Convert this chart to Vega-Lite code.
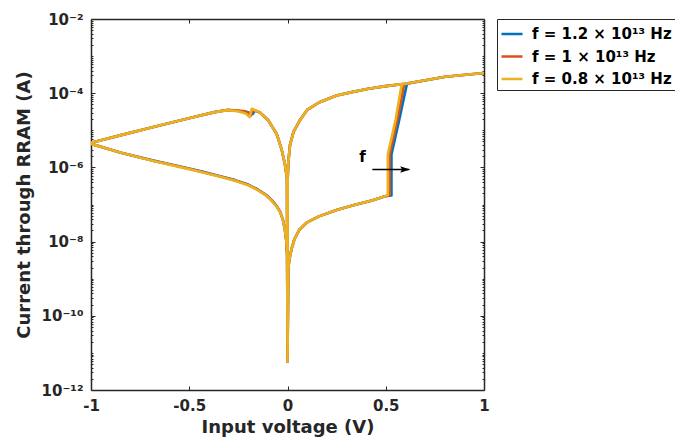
{
  "$schema": "https://vega.github.io/schema/vega-lite/v6.json",
  "width": 393,
  "height": 371,
  "autosize": {"type": "none"},
  "padding": {"left": 91, "top": 19, "right": 191, "bottom": 51},
  "background": "white",
  "config": {
    "view": {"stroke": null},
    "font": "DejaVu Sans",
    "axis": {
      "labelFont": "DejaVu Sans", "labelFontWeight": "bold", "labelColor": "#262626",
      "titleFont": "DejaVu Sans", "titleFontWeight": "bold", "titleColor": "#262626",
      "tickColor": "#262626", "domainColor": "#262626", "domainWidth": 1.5, "tickWidth": 1,
      "grid": false, "labelFlush": false, "labelOverlap": false
    }
  },
  "datasets": {
    "iv": [
      {"f":"1.2","i":1,"v":0,"a":5.5e-12},{"f":"1.2","i":2,"v":0.004,"a":1.778e-9},{"f":"1.2","i":3,"v":0.0092,"a":3.31e-9},{"f":"1.2","i":4,"v":0.0214,"a":6.61e-9},{"f":"1.2","i":5,"v":0.035,"a":1.148e-8},{"f":"1.2","i":6,"v":0.06,"a":2.09e-8},{"f":"1.2","i":7,"v":0.1,"a":3.31e-8},{"f":"1.2","i":8,"v":0.16,"a":4.79e-8},{"f":"1.2","i":9,"v":0.25,"a":7.08e-8},{"f":"1.2","i":10,"v":0.33,"a":9.33e-8},{"f":"1.2","i":11,"v":0.43,"a":1.29e-7},{"f":"1.2","i":12,"v":0.497,"a":1.66e-7},{"f":"1.2","i":13,"v":0.529,"a":1.74e-7},{"f":"1.2","i":14,"v":0.529,"a":2.24e-6},{"f":"1.2","i":15,"v":0.569,"a":1.95e-5},{"f":"1.2","i":16,"v":0.608,"a":1.81e-4},{"f":"1.2","i":17,"v":0.803,"a":2.77e-4},{"f":"1.2","i":18,"v":1,"a":3.5e-4},{"f":"1.2","i":19,"v":0.803,"a":2.77e-4},{"f":"1.2","i":20,"v":0.6,"a":1.79e-4},{"f":"1.2","i":21,"v":0.5,"a":1.55e-4},{"f":"1.2","i":22,"v":0.412,"a":1.318e-4},{"f":"1.2","i":23,"v":0.327,"a":1.07e-4},{"f":"1.2","i":24,"v":0.25,"a":8.71e-5},{"f":"1.2","i":25,"v":0.16,"a":5.62e-5},{"f":"1.2","i":26,"v":0.1,"a":3.55e-5},{"f":"1.2","i":27,"v":0.064,"a":1.905e-5},{"f":"1.2","i":28,"v":0.03,"a":8.91e-6},{"f":"1.2","i":29,"v":0.0127,"a":3.98e-6},{"f":"1.2","i":30,"v":0.004,"a":1.35e-6},{"f":"1.2","i":31,"v":0.001,"a":5.01e-7},{"f":"1.2","i":32,"v":0,"a":1.585e-11},{"f":"1.2","i":33,"v":-0.0025,"a":5.01e-7},{"f":"1.2","i":34,"v":-0.0127,"a":1.175e-6},{"f":"1.2","i":35,"v":-0.0296,"a":3.02e-6},{"f":"1.2","i":36,"v":-0.055,"a":7.94e-6},{"f":"1.2","i":37,"v":-0.098,"a":1.86e-5},{"f":"1.2","i":38,"v":-0.14,"a":3.02e-5},{"f":"1.2","i":39,"v":-0.168,"a":3.39e-5},{"f":"1.2","i":40,"v":-0.176,"a":2.75e-5},{"f":"1.2","i":41,"v":-0.21,"a":3.16e-5},{"f":"1.2","i":42,"v":-0.252,"a":3.31e-5},{"f":"1.2","i":43,"v":-0.303,"a":3.51e-5},{"f":"1.2","i":44,"v":-0.371,"a":3.09e-5},{"f":"1.2","i":45,"v":-0.507,"a":2.09e-5},{"f":"1.2","i":46,"v":-0.677,"a":1.242e-5},{"f":"1.2","i":47,"v":-0.847,"a":7.41e-6},{"f":"1.2","i":48,"v":-1,"a":4.6e-6},{"f":"1.2","i":49,"v":-1,"a":4.33e-6},{"f":"1.2","i":50,"v":-0.847,"a":2.48e-6},{"f":"1.2","i":51,"v":-0.677,"a":1.5e-6},{"f":"1.2","i":52,"v":-0.507,"a":9.48e-7},{"f":"1.2","i":53,"v":-0.435,"a":7.71e-7},{"f":"1.2","i":54,"v":-0.337,"a":5.72e-7},{"f":"1.2","i":55,"v":-0.267,"a":4.54e-7},{"f":"1.2","i":56,"v":-0.2,"a":3.44e-7},{"f":"1.2","i":57,"v":-0.149,"a":2.5e-7},{"f":"1.2","i":58,"v":-0.106,"a":1.77e-7},{"f":"1.2","i":59,"v":-0.0805,"a":1.31e-7},{"f":"1.2","i":60,"v":-0.055,"a":9.06e-8},{"f":"1.2","i":61,"v":-0.038,"a":6.5e-8},{"f":"1.2","i":62,"v":-0.024,"a":3.98e-8},{"f":"1.2","i":63,"v":-0.013,"a":2.09e-8},{"f":"1.2","i":64,"v":-0.006,"a":1.047e-8},{"f":"1.2","i":65,"v":-0.002,"a":4.47e-9},{"f":"1.2","i":66,"v":0,"a":3.16e-11},

      {"f":"1","i":1,"v":0,"a":5.5e-12},{"f":"1","i":2,"v":0.004,"a":1.778e-9},{"f":"1","i":3,"v":0.0092,"a":3.31e-9},{"f":"1","i":4,"v":0.0214,"a":6.61e-9},{"f":"1","i":5,"v":0.035,"a":1.148e-8},{"f":"1","i":6,"v":0.06,"a":2.09e-8},{"f":"1","i":7,"v":0.1,"a":3.31e-8},{"f":"1","i":8,"v":0.16,"a":4.79e-8},{"f":"1","i":9,"v":0.25,"a":7.08e-8},{"f":"1","i":10,"v":0.33,"a":9.33e-8},{"f":"1","i":11,"v":0.43,"a":1.29e-7},{"f":"1","i":12,"v":0.497,"a":1.66e-7},{"f":"1","i":13,"v":0.5197,"a":1.78e-7},{"f":"1","i":14,"v":0.5197,"a":2.24e-6},{"f":"1","i":15,"v":0.5595,"a":1.95e-5},{"f":"1","i":16,"v":0.594,"a":1.76e-4},{"f":"1","i":17,"v":0.803,"a":2.77e-4},{"f":"1","i":18,"v":1,"a":3.5e-4},{"f":"1","i":19,"v":0.803,"a":2.77e-4},{"f":"1","i":20,"v":0.6,"a":1.79e-4},{"f":"1","i":21,"v":0.5,"a":1.55e-4},{"f":"1","i":22,"v":0.412,"a":1.318e-4},{"f":"1","i":23,"v":0.327,"a":1.07e-4},{"f":"1","i":24,"v":0.25,"a":8.71e-5},{"f":"1","i":25,"v":0.16,"a":5.62e-5},{"f":"1","i":26,"v":0.1,"a":3.55e-5},{"f":"1","i":27,"v":0.064,"a":1.905e-5},{"f":"1","i":28,"v":0.03,"a":8.91e-6},{"f":"1","i":29,"v":0.0127,"a":3.98e-6},{"f":"1","i":30,"v":0.004,"a":1.35e-6},{"f":"1","i":31,"v":0.001,"a":5.01e-7},{"f":"1","i":32,"v":0,"a":1.585e-11},{"f":"1","i":33,"v":-0.0025,"a":5.01e-7},{"f":"1","i":34,"v":-0.0127,"a":1.175e-6},{"f":"1","i":35,"v":-0.0296,"a":3.02e-6},{"f":"1","i":36,"v":-0.055,"a":7.94e-6},{"f":"1","i":37,"v":-0.098,"a":1.86e-5},{"f":"1","i":38,"v":-0.14,"a":3.02e-5},{"f":"1","i":39,"v":-0.176,"a":3.63e-5},{"f":"1","i":40,"v":-0.186,"a":2.51e-5},{"f":"1","i":41,"v":-0.215,"a":3.24e-5},{"f":"1","i":42,"v":-0.252,"a":3.39e-5},{"f":"1","i":43,"v":-0.303,"a":3.55e-5},{"f":"1","i":44,"v":-0.371,"a":3.09e-5},{"f":"1","i":45,"v":-0.507,"a":2.09e-5},{"f":"1","i":46,"v":-0.677,"a":1.242e-5},{"f":"1","i":47,"v":-0.847,"a":7.41e-6},{"f":"1","i":48,"v":-1,"a":4.6e-6},{"f":"1","i":49,"v":-1,"a":4.33e-6},{"f":"1","i":50,"v":-0.847,"a":2.48e-6},{"f":"1","i":51,"v":-0.677,"a":1.485e-6},{"f":"1","i":52,"v":-0.507,"a":9.3e-7},{"f":"1","i":53,"v":-0.435,"a":7.56e-7},{"f":"1","i":54,"v":-0.337,"a":5.61e-7},{"f":"1","i":55,"v":-0.267,"a":4.46e-7},{"f":"1","i":56,"v":-0.2,"a":3.38e-7},{"f":"1","i":57,"v":-0.149,"a":2.45e-7},{"f":"1","i":58,"v":-0.106,"a":1.73e-7},{"f":"1","i":59,"v":-0.0805,"a":1.29e-7},{"f":"1","i":60,"v":-0.055,"a":8.88e-8},{"f":"1","i":61,"v":-0.038,"a":6.4e-8},{"f":"1","i":62,"v":-0.024,"a":3.98e-8},{"f":"1","i":63,"v":-0.013,"a":2.09e-8},{"f":"1","i":64,"v":-0.006,"a":1.047e-8},{"f":"1","i":65,"v":-0.002,"a":4.47e-9},{"f":"1","i":66,"v":0,"a":3.16e-11},

      {"f":"0.8","i":1,"v":0,"a":5.5e-12},{"f":"0.8","i":2,"v":0.004,"a":1.778e-9},{"f":"0.8","i":3,"v":0.0092,"a":3.31e-9},{"f":"0.8","i":4,"v":0.0214,"a":6.61e-9},{"f":"0.8","i":5,"v":0.035,"a":1.148e-8},{"f":"0.8","i":6,"v":0.06,"a":2.09e-8},{"f":"0.8","i":7,"v":0.1,"a":3.31e-8},{"f":"0.8","i":8,"v":0.16,"a":4.79e-8},{"f":"0.8","i":9,"v":0.25,"a":7.08e-8},{"f":"0.8","i":10,"v":0.33,"a":9.33e-8},{"f":"0.8","i":11,"v":0.43,"a":1.29e-7},{"f":"0.8","i":12,"v":0.497,"a":1.66e-7},{"f":"0.8","i":13,"v":0.5106,"a":1.8e-7},{"f":"0.8","i":14,"v":0.5106,"a":2.23e-6},{"f":"0.8","i":15,"v":0.5503,"a":1.95e-5},{"f":"0.8","i":16,"v":0.581,"a":1.71e-4},{"f":"0.8","i":17,"v":0.803,"a":2.77e-4},{"f":"0.8","i":18,"v":1,"a":3.5e-4},{"f":"0.8","i":19,"v":0.803,"a":2.77e-4},{"f":"0.8","i":20,"v":0.6,"a":1.79e-4},{"f":"0.8","i":21,"v":0.5,"a":1.55e-4},{"f":"0.8","i":22,"v":0.412,"a":1.318e-4},{"f":"0.8","i":23,"v":0.327,"a":1.07e-4},{"f":"0.8","i":24,"v":0.25,"a":8.71e-5},{"f":"0.8","i":25,"v":0.16,"a":5.62e-5},{"f":"0.8","i":26,"v":0.1,"a":3.55e-5},{"f":"0.8","i":27,"v":0.064,"a":1.905e-5},{"f":"0.8","i":28,"v":0.03,"a":8.91e-6},{"f":"0.8","i":29,"v":0.0127,"a":3.98e-6},{"f":"0.8","i":30,"v":0.004,"a":1.35e-6},{"f":"0.8","i":31,"v":0.001,"a":5.01e-7},{"f":"0.8","i":32,"v":0,"a":1.585e-11},{"f":"0.8","i":33,"v":-0.0025,"a":5.01e-7},{"f":"0.8","i":34,"v":-0.0127,"a":1.175e-6},{"f":"0.8","i":35,"v":-0.0296,"a":3.02e-6},{"f":"0.8","i":36,"v":-0.055,"a":7.94e-6},{"f":"0.8","i":37,"v":-0.098,"a":1.86e-5},{"f":"0.8","i":38,"v":-0.14,"a":3.02e-5},{"f":"0.8","i":39,"v":-0.182,"a":3.8e-5},{"f":"0.8","i":40,"v":-0.193,"a":2.26e-5},{"f":"0.8","i":41,"v":-0.21,"a":2.78e-5},{"f":"0.8","i":42,"v":-0.252,"a":3.27e-5},{"f":"0.8","i":43,"v":-0.303,"a":3.49e-5},{"f":"0.8","i":44,"v":-0.371,"a":3.09e-5},{"f":"0.8","i":45,"v":-0.507,"a":2.09e-5},{"f":"0.8","i":46,"v":-0.677,"a":1.242e-5},{"f":"0.8","i":47,"v":-0.847,"a":7.41e-6},{"f":"0.8","i":48,"v":-1,"a":4.6e-6},{"f":"0.8","i":49,"v":-1,"a":4.33e-6},{"f":"0.8","i":50,"v":-0.847,"a":2.48e-6},{"f":"0.8","i":51,"v":-0.677,"a":1.469e-6},{"f":"0.8","i":52,"v":-0.507,"a":9.12e-7},{"f":"0.8","i":53,"v":-0.435,"a":7.41e-7},{"f":"0.8","i":54,"v":-0.337,"a":5.5e-7},{"f":"0.8","i":55,"v":-0.267,"a":4.37e-7},{"f":"0.8","i":56,"v":-0.2,"a":3.31e-7},{"f":"0.8","i":57,"v":-0.149,"a":2.4e-7},{"f":"0.8","i":58,"v":-0.106,"a":1.7e-7},{"f":"0.8","i":59,"v":-0.0805,"a":1.26e-7},{"f":"0.8","i":60,"v":-0.055,"a":8.71e-8},{"f":"0.8","i":61,"v":-0.038,"a":6.31e-8},{"f":"0.8","i":62,"v":-0.024,"a":3.98e-8},{"f":"0.8","i":63,"v":-0.013,"a":2.09e-8},{"f":"0.8","i":64,"v":-0.006,"a":1.047e-8},{"f":"0.8","i":65,"v":-0.002,"a":4.47e-9},{"f":"0.8","i":66,"v":0,"a":3.16e-11}
    ],
    "label": [{"v": 0.382, "a": 1.44e-6, "t": "f"}],
    "arrow": [{"v": 0.432, "v2": 0.62, "a": 8.77e-7, "tip": 0.624}]
  },
  "layer": [
    {
      "data": {"name": "iv"},
      "mark": {"type": "line", "strokeWidth": 2.6, "clip": true, "strokeJoin": "round"},
      "encoding": {
        "x": {"field": "v", "type": "quantitative", "scale": {"domain": [-1, 1], "nice": false, "zero": false},
          "axis": {"orient": "bottom", "values": [-1, -0.5, 0, 0.5, 1], "labelExpr": "'' + datum.value", "tickSize": -4, "labelPadding": 12, "labelFontSize": 15, "title": "Input voltage (V)", "titleFontSize": 18, "titlePadding": 5}},
        "y": {"field": "a", "type": "quantitative", "scale": {"type": "log", "domain": [1e-12, 0.01], "nice": false},
          "axis": {"orient": "left", "values": [1e-12, 1e-10, 1e-8, 1e-6, 1e-4, 0.01], "labelExpr": "datum.value < 1e-11 ? '10⁻¹²' : datum.value < 1e-9 ? '10⁻¹⁰' : datum.value < 1e-7 ? '10⁻⁸' : datum.value < 1e-5 ? '10⁻⁶' : datum.value < 1e-3 ? '10⁻⁴' : '10⁻²'", "tickSize": -4, "labelPadding": 12, "labelFontSize": 15, "title": "Current through RRAM (A)", "titleFontSize": 18, "titlePadding": 8}},
        "color": {"field": "f", "type": "nominal",
          "scale": {"domain": ["1.2", "1", "0.8"], "range": ["#0072BD", "#D95319", "#EDB120"]},
          "legend": {"orient": "none", "legendX": 406, "legendY": 0, "title": null, "labelExpr": "'f = ' + datum.label + ' × 10¹³ Hz'", "labelFont": "DejaVu Sans", "labelFontWeight": "bold", "labelFontSize": 15, "labelColor": "#000000", "labelLimit": 1000, "labelOffset": 8, "symbolType": "stroke", "symbolSize": 441, "symbolStrokeWidth": 2.5, "padding": 3, "rowPadding": 2.5, "strokeColor": "#262626", "fillColor": "white"}},
        "order": {"field": "i", "type": "quantitative"}
      }
    },
    {
      "data": {"name": "iv"},
      "mark": {"type": "point", "opacity": 0},
      "encoding": {
        "x": {"field": "v", "type": "quantitative", "axis": {"orient": "top", "values": [-1, -0.5, 0, 0.5, 1], "labels": false, "tickSize": -4, "title": null}},
        "y": {"field": "a", "type": "quantitative", "axis": {"orient": "right", "values": [1e-12, 1e-10, 1e-8, 1e-6, 1e-4, 0.01], "labels": false, "tickSize": -4, "title": null}}
      }
    },
    {
      "data": {"name": "iv"},
      "mark": {"type": "point", "opacity": 0},
      "encoding": {
        "x": {"field": "v", "type": "quantitative", "axis": null},
        "y": {"field": "a", "type": "quantitative", "axis": {"orient": "left", "values": [2e-12,3e-12,4e-12,5e-12,6e-12,7e-12,8e-12,9e-12,1e-11,2e-11,3e-11,4e-11,5e-11,6e-11,7e-11,8e-11,9e-11,2e-10,3e-10,4e-10,5e-10,6e-10,7e-10,8e-10,9e-10,1e-9,2e-9,3e-9,4e-9,5e-9,6e-9,7e-9,8e-9,9e-9,2e-8,3e-8,4e-8,5e-8,6e-8,7e-8,8e-8,9e-8,1e-7,2e-7,3e-7,4e-7,5e-7,6e-7,7e-7,8e-7,9e-7,2e-6,3e-6,4e-6,5e-6,6e-6,7e-6,8e-6,9e-6,1e-5,2e-5,3e-5,4e-5,5e-5,6e-5,7e-5,8e-5,9e-5,2e-4,3e-4,4e-4,5e-4,6e-4,7e-4,8e-4,9e-4,1e-3,2e-3,3e-3,4e-3,5e-3,6e-3,7e-3,8e-3,9e-3], "labels": false, "domain": false, "tickSize": -2, "title": null}}
      }
    },
    {
      "data": {"name": "iv"},
      "mark": {"type": "point", "opacity": 0},
      "encoding": {
        "x": {"field": "v", "type": "quantitative", "axis": null},
        "y": {"field": "a", "type": "quantitative", "axis": {"orient": "right", "values": [2e-12,3e-12,4e-12,5e-12,6e-12,7e-12,8e-12,9e-12,1e-11,2e-11,3e-11,4e-11,5e-11,6e-11,7e-11,8e-11,9e-11,2e-10,3e-10,4e-10,5e-10,6e-10,7e-10,8e-10,9e-10,1e-9,2e-9,3e-9,4e-9,5e-9,6e-9,7e-9,8e-9,9e-9,2e-8,3e-8,4e-8,5e-8,6e-8,7e-8,8e-8,9e-8,1e-7,2e-7,3e-7,4e-7,5e-7,6e-7,7e-7,8e-7,9e-7,2e-6,3e-6,4e-6,5e-6,6e-6,7e-6,8e-6,9e-6,1e-5,2e-5,3e-5,4e-5,5e-5,6e-5,7e-5,8e-5,9e-5,2e-4,3e-4,4e-4,5e-4,6e-4,7e-4,8e-4,9e-4,1e-3,2e-3,3e-3,4e-3,5e-3,6e-3,7e-3,8e-3,9e-3], "labels": false, "domain": false, "tickSize": -2, "title": null}}
      }
    },
    {
      "data": {"name": "label"},
      "mark": {"type": "text", "font": "DejaVu Sans", "fontWeight": "bold", "fontSize": 15, "align": "center", "baseline": "alphabetic", "color": "#000000"},
      "encoding": {
        "x": {"field": "v", "type": "quantitative", "axis": null},
        "y": {"field": "a", "type": "quantitative", "axis": null},
        "text": {"field": "t"}
      }
    },
    {
      "data": {"name": "arrow"},
      "mark": {"type": "rule", "strokeWidth": 1.5, "color": "#000000"},
      "encoding": {
        "x": {"field": "v", "type": "quantitative", "axis": null},
        "x2": {"field": "v2"},
        "y": {"field": "a", "type": "quantitative", "axis": null}
      }
    },
    {
      "data": {"name": "arrow"},
      "mark": {"type": "point", "shape": "M-1,-0.33L0,0L-1,0.33L-0.8,0Z", "filled": true, "color": "#000000", "opacity": 1, "size": 400},
      "encoding": {
        "x": {"field": "tip", "type": "quantitative", "axis": null},
        "y": {"field": "a", "type": "quantitative", "axis": null}
      }
    }
  ],
  "resolve": {"axis": {"x": "independent", "y": "independent"}}
}
